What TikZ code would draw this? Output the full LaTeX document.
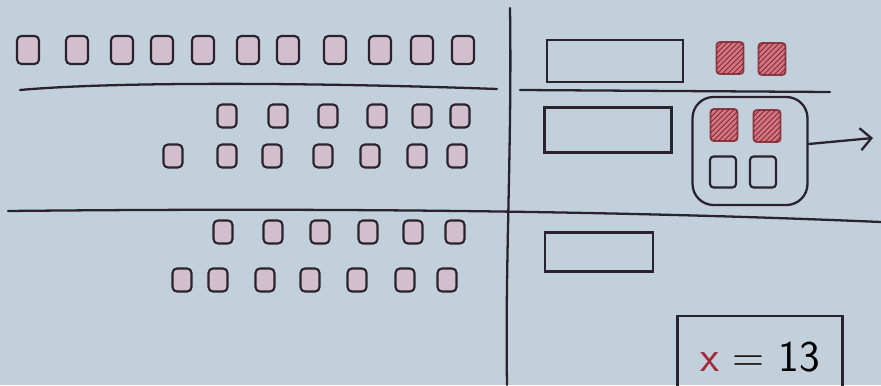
\documentclass[tikz,border=0pt]{standalone}
\usepackage{tikz}
\usetikzlibrary{arrows.meta,positioning,patterns}
\definecolor{paper}{RGB}{193,208,218}
\definecolor{inkdark}{RGB}{42,34,44}
\definecolor{cellpink}{RGB}{210,190,204}
\definecolor{hatchred}{RGB}{205,80,95}
\definecolor{xred}{RGB}{165,40,60}
\tikzset{
  rule/.style={draw=inkdark,line width=1.3pt,line cap=round},
  cell/.style={draw=inkdark,fill=cellpink,line width=1.2pt,rounded corners=2.5pt,
    minimum width=0.38cm,minimum height=0.46cm,inner sep=0pt},
  bigcell/.style={cell,minimum width=0.44cm,minimum height=0.56cm},
  hatched/.style={draw=hatchred!70!black,line width=1.1pt,rounded corners=2pt,
    fill=hatchred!80,minimum width=0.54cm,minimum height=0.64cm,inner sep=0pt,
    postaction={pattern=north east lines,pattern color=hatchred!50!black}},
  emptycell/.style={draw=inkdark,line width=1.2pt,rounded corners=2pt,
    minimum width=0.52cm,minimum height=0.62cm,inner sep=0pt},
  slot/.style={draw=inkdark,line width=1.3pt,inner sep=0pt},
}
\begin{document}
\begin{tikzpicture}[x=0.02cm,y=-0.02cm,>={Straight Barb[length=2.2mm]}]
\fill[paper] (0,0) rectangle (881,385);
\useasboundingbox (0,0) rectangle (881,385);
% dividers
\draw[rule] (510,8) .. controls (512,150) and (505,260) .. (507,385);
\draw[rule] (20,90) .. controls (120,81) and (330,83) .. (497,89);
\draw[rule] (520,90) -- (830,92);
\draw[rule] (8,211) .. controls (300,208) and (600,210) .. (881,222);
% left column: waiting items
\foreach \x [count=\i] in {28,77,122,162,203,248,288,335,380,422,463}
  \node[bigcell] (q\i) at (\x,50) {};
\foreach \x [count=\i] in {227,278,328,377,422,460}
  \node[cell] (a\i) at (\x,116) {};
\foreach \x [count=\i] in {173,227,272,323,370,417,457}
  \node[cell] (b\i) at (\x,156) {};
\foreach \x [count=\i] in {223,273,320,368,413,455}
  \node[cell] (c\i) at (\x,232) {};
\foreach \x [count=\i] in {182,218,265,310,357,405,447}
  \node[cell] (d\i) at (\x,280) {};
% right column: slots
\node[slot,minimum width=2.72cm,minimum height=0.84cm] (slot1) at (615,61) {};
\node[slot,minimum width=2.54cm,minimum height=0.9cm] (slot2) at (608,130) {};
\node[slot,minimum width=2.16cm,minimum height=0.78cm] (slot3) at (599,252) {};
\node[hatched] (h1) at (730,58) {};
\node[hatched] (h2) at (772,59) {};
\node[slot,rounded corners=12pt,minimum width=2.3cm,minimum height=2.16cm] (pool) at (750,151) {};
\node[hatched] (p1) at (724,125) {};
\node[hatched] (p2) at (767,126) {};
\node[emptycell] (p3) at (723,172) {};
\node[emptycell] (p4) at (763,172) {};
\coordinate (out) at (873,138);
\draw[rule,->] (pool.east) ++(0,-7) -- (out);
\node[slot,minimum width=3.3cm,minimum height=1.64cm,font=\sffamily\fontsize{25}{29}\selectfont]
  (answer) at (760,357) {{\color{xred}x} = 13};
\end{tikzpicture}
\end{document}
